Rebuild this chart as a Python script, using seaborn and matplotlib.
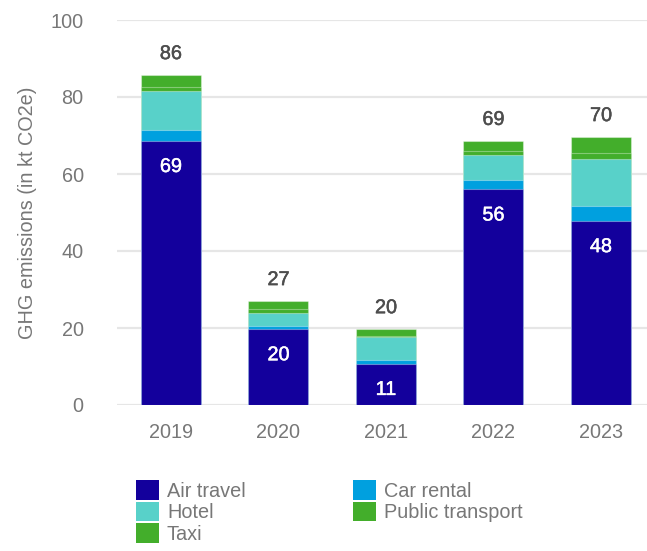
import matplotlib
matplotlib.use("Agg")
import matplotlib.pyplot as plt
import matplotlib.patheffects as pe
from matplotlib.patches import Patch
import numpy as np
import pandas as pd
import seaborn as sns

# Business travel emissions by category, kt CO2e
years = ["2019", "2020", "2021", "2022", "2023"]
air_travel = [68.6, 19.7, 10.7, 56.0, 47.8]
car_rental = [2.9, 0.9, 1.0, 2.5, 3.9]
hotel = [10.1, 3.3, 6.0, 6.4, 12.2]
public_transport = [0.9, 1.0, 0.3, 1.0, 1.5]
taxi = [3.2, 2.1, 1.7, 2.7, 4.2]

categories = ["Air travel", "Car rental", "Hotel", "Public transport", "Taxi"]
colors = {
    "Air travel": "#13009c",
    "Car rental": "#00a0df",
    "Hotel": "#58d1c9",
    "Public transport": "#43ae2b",
    "Taxi": "#43ae2b",
}

df = pd.DataFrame({
    "year": years,
    "Air travel": air_travel,
    "Car rental": car_rental,
    "Hotel": hotel,
    "Public transport": public_transport,
    "Taxi": taxi,
})
cum = df[categories].cumsum(axis=1)
totals = cum["Taxi"]

sns.set_theme(style="white")
FONT = ["Liberation Sans", "DejaVu Sans"]
plt.rcParams["font.family"] = FONT
FS = 14.3
TXT = "#777777"

fig = plt.figure(figsize=(6.47, 5.51), dpi=100)
ax = fig.add_axes([117 / 647, 1 - 405 / 551, 530 / 647, 385 / 551])

# stacked bars: draw cumulative heights from the top layer down
for cat in reversed(categories):
    sns.barplot(x=df["year"], y=cum[cat], color=colors[cat], width=0.558,
                saturation=1, ax=ax, zorder=3,
                edgecolor=(1, 1, 1, 0.35), linewidth=0.8)

ax.set_xlim(-0.502, 4.428)
ax.set_ylim(0, 100)
ax.set_yticks(np.arange(0, 101, 20))
ax.grid(axis="y", color="#e6e6e6", linewidth=1.6, zorder=0)
ax.grid(axis="x", visible=False)
for s in ax.spines.values():
    s.set_visible(False)
ax.tick_params(axis="both", length=0, labelsize=FS, labelcolor=TXT)
ax.tick_params(axis="y", pad=24)
ax.tick_params(axis="x", pad=13)
ax.set_xlabel("")
ax.set_ylabel("GHG emissions (in kt CO2e)", fontsize=FS, color=TXT, labelpad=10)

# total labels above each stack, air travel value inside the bottom segment
for i, (tot, air) in enumerate(zip(totals, air_travel)):
    ax.annotate(f"{tot:.0f}", (i, tot), xytext=(0, 11.5), textcoords="offset points",
                ha="center", va="baseline", fontsize=FS, color="#4d4d4d", zorder=5,
                path_effects=[pe.withStroke(linewidth=0.35, foreground="#4d4d4d")])
    ax.annotate(f"{air:.0f}", (i, air), xytext=(0, -22.4), textcoords="offset points",
                ha="center", va="baseline", fontsize=FS, color="white", zorder=5,
                path_effects=[pe.withStroke(linewidth=0.35, foreground="white")])

legend_order = ["Air travel", "Hotel", "Taxi", "Car rental", "Public transport"]
handles = [Patch(facecolor=colors[c], edgecolor="none", label=c) for c in legend_order]
leg = fig.legend(handles=handles, loc="upper left", ncol=2,
                 bbox_to_anchor=(136 / 647, 1 - 480 / 551),
                 frameon=False, fontsize=FS, borderpad=0, borderaxespad=0,
                 handlelength=1.16, handleheight=1.16, handletextpad=0.4,
                 labelspacing=0.05, columnspacing=5.39)
for t in leg.get_texts():
    t.set_color(TXT)

fig.savefig("out.png", dpi=100)
